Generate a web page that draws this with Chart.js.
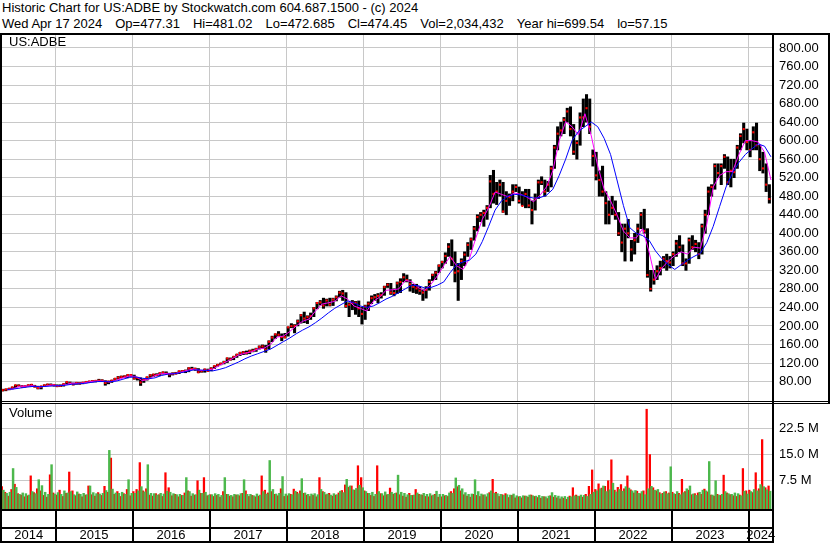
<!DOCTYPE html>
<html>
<head>
<meta charset="utf-8">
<script src="https://cdn.jsdelivr.net/npm/chart.js@4.4.1/dist/chart.umd.min.js"></script>
<style>
body { margin: 0; background: #fff; }
#wrap { position: relative; width: 830px; height: 543px; overflow: hidden; background: #fff;
        font-family: "Liberation Sans", Arial, sans-serif; }
.t { position: absolute; left: 2px; font-size: 13px; line-height: 16px; white-space: pre; color: #000; }
.t span + span { margin-left: 13px; }
.ln { position: absolute; background: #000; }
canvas { position: absolute; }
</style>
</head>
<body>
<div id="wrap">
  <div class="t" style="top:0px">Historic Chart for US:ADBE by Stockwatch.com 604.687.1500 - (c) 2024</div>
  <div class="t" style="top:16px"><span>Wed Apr 17 2024</span><span>Op=477.31</span><span>Hi=481.02</span><span>Lo=472.685</span><span>Cl=474.45</span><span>Vol=2,034,432</span><span>Year hi=699.54</span><span>lo=57.15</span></div>
  <canvas id="price" width="830" height="366" style="left:0;top:35px"></canvas>
  <canvas id="vol" width="830" height="139" style="left:0;top:404px"></canvas>
  <div class="ln" style="left:0;top:33px;width:830px;height:2px"></div>
  <div class="ln" style="left:0;top:33px;width:2px;height:510px"></div>
  <div class="ln" style="left:0;top:401px;width:830px;height:1px"></div>
  <div class="ln" style="left:0;top:403px;width:830px;height:1px"></div>
  <div class="ln" style="left:772px;top:33px;width:2px;height:510px"></div>
  <div class="ln" style="left:828px;top:33px;width:2px;height:370px"></div>
  <div class="t" style="left:9px;top:34px">US:ADBE</div>
  <div class="t" style="left:9px;top:405px">Volume</div>
</div>
<script>
// half-month periods, Apr 16 2014 .. Apr 17 2024 (240 periods)
// price range (low / high) and close for each period
const lows = [
  59.5, 60, 62, 64, 67, 70, 68, 68, 70, 70, 68, 64, 64, 69, 72, 71, 70, // 2014
  69, 69, 70, 74, 75, 72.5, 74, 74, 75, 77, 78, 79, 79, 81, 80, 72, 75, 78, 82, 85, 88, 89, 88, 91, // 2015
  85, 83, 71.5, 78, 83, 89, 91, 92, 93, 96, 96, 90, 94, 96, 97, 100, 99, 101, 106, 104, 99, 100, 100, 102, // 2016
  103, 108, 113, 116, 118, 121, 126, 127, 132, 136, 138, 139, 140, 144, 145, 150, 152, 143, 150, 166, 173, 178, 168, 174, // 2017
  178, 196, 185, 200, 206, 207, 205, 214, 220, 237, 245, 238, 243, 243, 244, 254, 262, 255, 240, 220, 235, 225, 220, 204, // 2018
  214, 233, 248, 255, 250, 260, 266, 283, 268, 265, 270, 272, 295, 295, 275, 272, 270, 268, 255, 260, 277, 298, 300, 315, // 2019
  325, 335, 350, 330, 295, 255, 300, 330, 350, 365, 385, 405, 425, 415, 430, 455, 465, 462, 480, 445, 440, 460, 470, 490, // 2020
  465, 460, 455, 455, 420, 450, 475, 505, 480, 490, 500, 540, 580, 610, 615, 640, 610, 570, 560, 590, 630, 640, 615, 545, // 2021
  515, 480, 480, 420, 420, 440, 430, 395, 360, 340, 390, 340, 355, 380, 410, 400, 305, 275, 290, 300, 310, 325, 320, 325, // 2022
  330, 350, 360, 330, 320, 335, 365, 360, 345, 355, 400, 440, 480, 495, 520, 505, 540, 505, 500, 520, 540, 580, 595, 580, // 2023
  565, 580, 580, 535, 530, 490, 465 // 2024
];
const highs = [
  63.5, 64, 65.5, 68, 72.5, 73, 71.5, 71, 73, 74, 72, 70, 70, 73, 74.5, 75, 74,
  73, 73, 75, 79.5, 79, 77, 78, 78, 78.5, 80, 81, 82, 82, 85, 84, 82, 81, 83, 87, 91, 92, 92.5, 95, 95,
  94, 89, 88, 85, 90, 95, 96, 97, 99, 101, 101, 98, 99, 100, 103, 104, 105, 110, 111, 109, 108, 104, 107, 107,
  110, 114, 117, 120, 124, 131, 131, 134, 139, 143, 145, 146, 148, 150, 152, 157, 159, 158, 168, 178, 183, 188, 183, 184,
  198, 205, 203, 213, 225, 230, 222, 228, 240, 251, 255, 260, 258, 260, 260, 265, 275, 277, 272, 250, 255, 253, 254, 240,
  245, 252, 265, 268, 270, 272, 286, 292, 292, 280, 295, 302, 313, 310, 300, 290, 290, 285, 278, 285, 300, 312, 318, 332,
  340, 358, 378, 386, 360, 335, 345, 360, 380, 390, 415, 440, 445, 450, 460, 525, 536, 510, 515, 510, 490, 485, 505, 505,
  500, 490, 495, 495, 470, 485, 515, 522, 515, 512, 545, 590, 630, 640, 650, 670, 673, 635, 600, 660, 690, 699.5, 690, 580,
  575, 535, 545, 490, 470, 480, 470, 445, 420, 420, 430, 385, 400, 420, 445, 452, 410, 320, 320, 330, 340, 350, 355, 350,
  360, 385, 395, 375, 345, 390, 395, 385, 380, 420, 450, 500, 505, 550, 550, 550, 570, 565, 560, 560, 590, 615, 638, 625,
  600, 630, 638, 590, 575, 550, 505
];
const closes = [
  61.5, 63, 64.5, 67.5, 72, 71, 69, 70, 72, 73, 69, 66, 69.5, 72, 73.5, 72.5, 72.5,
  70, 70.5, 74.5, 79, 76, 74, 77, 76, 77.5, 79, 80, 81, 81.5, 82, 82, 77, 80, 82, 86, 88.5, 90, 91, 94, 94,
  87, 88, 78, 84, 89, 93.5, 95, 94, 98, 99.5, 97, 95.5, 97, 97.5, 102, 102.5, 103, 108.5, 107, 107.5, 100, 102.5, 106, 103,
  108, 113.5, 116, 118.5, 122, 130, 128, 133.5, 138, 142, 143, 141.5, 146, 146.5, 150, 155, 156, 149, 166, 175, 182, 181, 176, 175.5,
  197, 199.5, 200, 210, 223, 216, 219, 221.5, 238, 249.5, 251, 244, 255, 246, 257, 262, 272, 270, 243, 246, 250, 250, 238, 226,
  242, 248, 260, 262, 265, 266.5, 284, 289, 272, 271, 292, 295, 305, 299, 290, 284.5, 281, 276, 272, 278, 295, 310, 315, 330,
  338, 351, 371, 345, 315, 318, 340, 354, 375, 387, 410, 435, 440, 444, 455, 512, 485, 490, 505, 447, 470, 478, 490, 500,
  470, 459, 485, 460, 450, 475, 510, 510, 490, 505, 540, 585, 615, 622, 645, 663, 625, 576, 595, 650, 650, 670, 630, 567,
  525, 515, 490, 465, 440, 455, 440, 400, 380, 410, 400, 365, 385, 410, 440, 405, 310, 280, 300, 318, 325, 345, 340, 337,
  355, 378, 370, 335, 335, 385, 370, 377, 355, 415, 440, 490, 500, 545, 530, 545, 565, 510, 535, 532, 585, 610, 625, 597,
  580, 618, 590, 560, 540, 505, 474
];

// moving averages read monthly, May 2014 .. Apr 2024
const blueMA = [
  63, 64, 66, 68, 69.5, 69, 69.5, 70.5,
  71, 72, 74, 75, 76, 78, 80, 80, 79.5, 81, 85, 89,
  90, 87, 86, 88, 93, 96, 97, 99, 102, 105, 105, 104,
  103, 106, 110, 116, 122, 129, 135, 140, 145, 150, 158, 166,
  174, 183, 191, 198, 207, 217, 228, 238, 246, 254, 250, 243,
  240, 243, 250, 258, 264, 272, 280, 288, 287, 282, 283, 288,
  295, 315, 332, 338, 342, 355, 382, 415, 450, 470, 480, 484,
  483, 479, 476, 477, 482, 495, 525, 560, 600, 620, 630, 640,
  630, 605, 570, 515, 460, 412, 400, 395, 385, 362, 345, 332,
  322, 332, 342, 350, 357, 380, 415, 458, 500, 530, 553, 570,
  582, 593, 588, 565
];
const magentaMA = [
  62, 65, 70, 70, 71, 68, 70, 72.5,
  71, 73, 76.5, 76, 77, 80, 81, 81, 79, 83, 88, 92,
  91, 82, 85, 93, 97, 97, 97, 100, 104, 107, 104, 104,
  107, 114, 122, 129, 137, 141, 144, 150, 152, 160, 176, 178,
  188, 200, 210, 215, 232, 247, 250, 253, 265, 258, 243, 238,
  232, 253, 262, 277, 278, 280, 298, 296, 283, 276, 290, 308,
  330, 350, 330, 322, 345, 390, 430, 455, 489, 484, 479, 487,
  484, 478, 468, 482, 500, 535, 600, 641, 630, 612, 658, 610,
  545, 495, 470, 440, 405, 390, 390, 410, 360, 300, 325, 340,
  352, 360, 355, 370, 368, 420, 500, 525, 533, 533, 570, 600,
  600, 597, 575, 515
];

// volume per half-month, largest down-day and up-day (millions)
const redVol = [
  5.8, 4.2, 3.1, 5.0, 6.5, 3.8, 3.4, 2.9, 3.2, 8.9, 4.1, 5.2, 4.6, 3.3, 2.8, 9.2, 4.0,
  3.4, 4.8, 3.0, 3.9, 10.0, 4.6, 3.2, 3.7, 2.9, 3.4, 6.0, 3.5, 3.1, 4.1, 3.3, 5.9, 4.2, 14.0, 3.6, 4.4, 3.0, 3.8, 5.0, 3.2,
  4.4, 5.0, 12.7, 4.6, 5.2, 3.4, 3.1, 3.8, 3.5, 3.0, 9.8, 5.5, 3.2, 3.6, 2.9, 3.3, 4.0, 4.6, 3.1, 3.4, 7.5, 3.9, 8.4, 3.2,
  3.5, 3.0, 3.3, 2.8, 4.4, 3.6, 3.1, 2.9, 3.4, 3.2, 3.9, 4.6, 3.0, 3.3, 2.9, 3.1, 8.9, 4.8, 4.0, 4.4, 3.6, 3.2, 5.2, 3.0,
  3.2, 3.6, 5.1, 4.2, 4.6, 3.9, 3.4, 3.0, 3.3, 2.9, 8.4, 4.4, 3.5, 3.9, 3.1, 3.4, 4.0, 4.7, 6.3, 5.6, 6.0, 4.8, 11.8, 8.4,
  4.6, 3.9, 3.3, 3.0, 11.8, 3.8, 3.2, 3.5, 5.4, 3.6, 4.0, 3.5, 3.1, 2.8, 3.9, 3.3, 5.0, 3.6, 3.4, 3.0, 2.9, 3.2, 3.6, 2.8,
  2.9, 3.2, 3.0, 4.4, 5.2, 5.8, 4.6, 3.5, 3.1, 2.8, 3.6, 3.3, 3.0, 3.4, 2.9, 4.1, 7.9, 4.2, 3.0, 3.5, 3.8, 2.7, 3.3, 2.6,
  2.9, 2.6, 3.1, 2.8, 3.4, 3.0, 2.7, 2.5, 2.9, 2.4, 3.2, 2.8, 2.6, 2.3, 2.5, 2.2, 3.1, 5.5, 3.4, 3.0, 2.8, 3.6, 5.9, 10.6,
  5.0, 6.6, 5.4, 5.9, 7.5, 13.5, 4.8, 5.6, 6.4, 5.2, 8.9, 4.9, 4.0, 4.5, 3.8, 4.6, 28.0, 15.0, 5.5, 4.6, 4.1, 3.9, 4.4, 4.0,
  4.2, 3.6, 3.9, 7.9, 4.4, 4.8, 3.5, 3.8, 4.0, 3.6, 5.1, 4.3, 3.4, 3.1, 3.6, 3.3, 9.1, 4.0, 3.5, 3.2, 3.0, 3.4, 11.0, 4.6,
  4.8, 4.1, 9.8, 5.2, 19.3, 5.5, 6.0
];
const greenVol = [
  4.8, 3.9, 4.2, 11.0, 5.6, 3.6, 4.0, 3.8, 3.4, 4.4, 3.8, 7.8, 6.1, 4.2, 3.6, 12.1, 3.7,
  4.1, 3.6, 4.6, 4.0, 4.4, 3.5, 4.3, 3.6, 3.9, 3.5, 6.0, 4.1, 3.8, 3.7, 3.9, 4.7, 16.2, 5.1, 4.0, 3.9, 4.2, 3.6, 7.8, 3.9,
  3.9, 4.6, 5.8, 4.3, 12.1, 3.9, 3.8, 3.4, 3.9, 3.7, 4.5, 4.2, 3.8, 3.5, 3.6, 3.3, 8.4, 4.4, 3.8, 3.5, 4.8, 3.9, 4.2, 3.4,
  3.5, 3.8, 3.6, 3.3, 8.4, 3.6, 3.3, 3.6, 3.5, 3.8, 7.8, 3.6, 3.6, 3.2, 3.7, 3.4, 4.4, 3.7, 13.3, 5.0, 3.7, 3.9, 8.7, 3.7,
  3.8, 3.5, 4.5, 3.8, 8.1, 4.0, 3.6, 3.7, 3.8, 3.5, 5.0, 4.2, 3.7, 3.4, 3.8, 3.5, 4.5, 4.1, 7.9, 6.0, 4.9, 5.3, 6.2, 5.5,
  4.4, 3.9, 4.2, 3.6, 4.4, 3.8, 4.3, 3.6, 4.2, 3.9, 9.1, 4.2, 3.9, 3.5, 3.3, 3.4, 4.0, 3.5, 3.9, 3.6, 3.8, 3.4, 4.5, 3.6,
  3.6, 3.3, 4.0, 3.9, 8.3, 6.2, 5.2, 4.1, 3.6, 3.7, 7.8, 4.4, 3.7, 3.5, 3.8, 4.6, 3.9, 3.8, 3.6, 3.3, 3.5, 3.4, 3.7, 3.2,
  3.0, 3.2, 3.1, 3.4, 3.2, 3.1, 3.3, 3.0, 2.9, 3.1, 4.1, 3.3, 3.1, 2.9, 3.0, 2.8, 2.9, 3.2, 3.1, 3.4, 3.3, 3.0, 3.6, 4.2,
  4.6, 5.2, 6.0, 4.4, 4.9, 6.8, 4.3, 5.0, 4.5, 5.8, 5.4, 4.6, 4.7, 3.9, 4.4, 3.5, 5.2, 5.9, 4.8, 5.0, 3.7, 4.3, 3.8, 11.5,
  3.8, 4.4, 3.5, 4.1, 5.2, 6.0, 3.7, 3.3, 4.2, 4.8, 4.6, 13.0, 3.4, 7.5, 3.4, 3.6, 4.4, 3.8, 3.6, 4.0, 3.8, 3.2, 4.5, 3.7,
  4.4, 5.0, 4.6, 6.4, 5.8, 4.9, 4.5
];

const priceTicks = [80, 120, 160, 200, 240, 280, 320, 360, 400, 440, 480, 520, 560, 600, 640, 680, 720, 760, 800];
const volTicks = [7.5, 15, 22.5];
const yearLines = [2015, 2016, 2017, 2018, 2019, 2020, 2021, 2022, 2023, 2024];
const yearLabels = ['2014', '2015', '2016', '2017', '2018', '2019', '2020', '2021', '2022', '2023', '2024'];

const X0 = 2014.304, X1 = 2024.318;
const periodStart = 2014 + 3.5 / 12;
function periodX(i) { return periodStart + (i + 0.5) / 24; }
function monthX(k) { return 2014 + (4 + k + 0.5) / 12; }

const FONT = { family: '"Liberation Sans", Arial, sans-serif', size: 13 };
const GRID = '#c8c8c8';

function xScale() {
  return {
    type: 'linear', min: X0, max: X1, offset: false,
    afterBuildTicks: s => { s.ticks = yearLines.map(v => ({ value: v })); },
    ticks: { display: false },
    grid: { color: GRID, drawTicks: false, offset: false, lineWidth: 1 },
    border: { display: false }
  };
}

// right value axis; labels must not pad the plot area
function fitRight(s) {
  s.width = 57;
  s.paddingTop = 0;
  s.paddingBottom = 0;
}

new Chart(document.getElementById('price'), {
  type: 'bar',
  data: {
    datasets: [
      { type: 'line', order: 0, data: blueMA.map((v, k) => ({ x: monthX(k), y: v })),
        borderColor: '#0000ff', borderWidth: 1, pointRadius: 0, tension: 0 },
      { type: 'line', order: 1, data: magentaMA.map((v, k) => ({ x: monthX(k), y: v })),
        borderColor: '#ff00ff', borderWidth: 1, pointRadius: 0, tension: 0 },
      { type: 'line', order: 2, data: closes.map((v, i) => ({ x: periodX(i), y: v })),
        showLine: false, pointStyle: 'rect', pointRadius: 1.5, pointBackgroundColor: '#ff0000', pointBorderWidth: 0 },
      { type: 'bar', order: 3, data: lows.map((lo, i) => ({ x: periodX(i), y: [lo, highs[i]] })),
        backgroundColor: '#000', borderWidth: 0, barThickness: 2.4, grouped: false }
    ]
  },
  options: {
    animation: false, responsive: false,
    layout: { autoPadding: false, padding: { left: 2, top: 0, right: 0, bottom: 0 } },
    plugins: { legend: { display: false }, tooltip: { enabled: false } },
    scales: {
      x: xScale(),
      y: {
        position: 'right', min: 38, max: 828,
        afterBuildTicks: s => { s.ticks = priceTicks.map(v => ({ value: v })); },
        afterFit: fitRight,
        ticks: { font: FONT, color: '#000', padding: 6, callback: v => v.toFixed(2) },
        grid: { color: GRID, drawTicks: false },
        border: { display: true, color: '#000', width: 2 }
      }
    }
  }
});

const volMin = -0.6, volMax = 29.5;

const yearRows = {
  id: 'yearRows',
  afterDraw(chart) {
    const { ctx, chartArea: a, scales: { x } } = chart;
    const top = a.bottom, mid = top + 18, bot = top + 32;
    ctx.save();
    ctx.fillStyle = '#000';
    ctx.fillRect(0, top, a.right + 1, 2);
    ctx.fillRect(0, mid, a.right + 1, 2);
    ctx.fillRect(0, bot, a.right + 1, 2);
    ctx.font = '13px "Liberation Sans", Arial, sans-serif';
    ctx.textAlign = 'center';
    ctx.textBaseline = 'middle';
    yearLabels.forEach(lab => {
      const yr = +lab;
      const l = Math.max(a.left, x.getPixelForValue(yr));
      const r = Math.min(a.right, x.getPixelForValue(yr + 1));
      if (yr > 2014) ctx.fillRect(Math.round(l) - 1, top, 2, bot - top);
      ctx.fillText(lab, (l + r) / 2, (mid + 2 + bot) / 2);
    });
    ctx.restore();
  }
};

new Chart(document.getElementById('vol'), {
  type: 'bar',
  data: {
    datasets: [
      { order: 1, data: redVol.map((v, i) => ({ x: periodX(i) - 1 / 96, y: v })),
        backgroundColor: '#ff0000', borderWidth: 0, barThickness: 1.6, grouped: false, base: volMin },
      { order: 0, data: greenVol.map((v, i) => ({ x: periodX(i) + 1 / 96, y: v })),
        backgroundColor: '#4cb84c', borderWidth: 0, barThickness: 1.8, grouped: false, base: volMin }
    ]
  },
  options: {
    animation: false, responsive: false,
    layout: { autoPadding: false, padding: { left: 2, top: 0, right: 0, bottom: 34 } },
    plugins: { legend: { display: false }, tooltip: { enabled: false } },
    scales: {
      x: xScale(),
      y: {
        position: 'right', min: volMin, max: volMax,
        afterBuildTicks: s => { s.ticks = volTicks.map(v => ({ value: v })); },
        afterFit: fitRight,
        ticks: { font: FONT, color: '#000', padding: 6, callback: v => v.toFixed(1) + ' M' },
        grid: { color: GRID, drawTicks: false },
        border: { display: true, color: '#000', width: 2 }
      }
    }
  },
  plugins: [yearRows]
});
</script>
</body>
</html>
